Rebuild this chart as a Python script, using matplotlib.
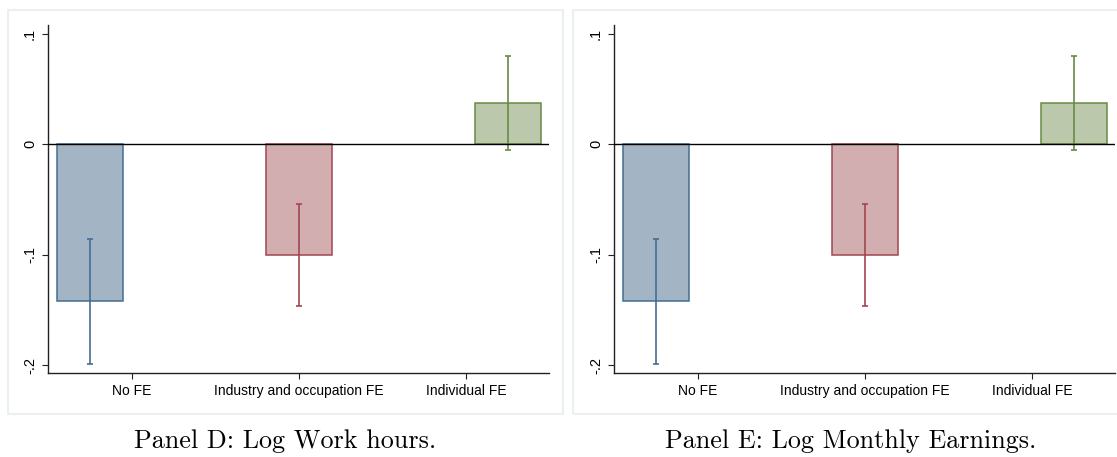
import matplotlib
matplotlib.use("Agg")
import matplotlib.pyplot as plt
from matplotlib.patches import Rectangle
import numpy as np

# Estimates with 95% confidence intervals, by fixed-effects specification
categories = ["No FE", "Industry and occupation FE", "Individual FE"]
hours_coef = [-0.142, -0.100, 0.037]
hours_lo = [-0.199, -0.147, -0.005]
hours_hi = [-0.086, -0.054, 0.080]
earn_coef = [-0.142, -0.100, 0.037]
earn_lo = [-0.199, -0.147, -0.005]
earn_hi = [-0.086, -0.054, 0.080]
yticks = [-0.2, -0.1, 0.0, 0.1]
ytick_labels = ["-.2", "-.1", "0", ".1"]
captions = ["Panel D: Log Work hours.", "Panel E: Log Monthly Earnings."]

fills = ["#a3b5c5", "#d3aeb1", "#bbc8ac"]
edges = ["#456d92", "#a2464f", "#688a44"]

W, H = 1117, 457
fig = plt.figure(figsize=(W / 100, H / 100), dpi=100)
fig.patch.set_facecolor("white")


def px_axes(left, top, right, bottom):
    return fig.add_axes([left / W, 1 - bottom / H, (right - left) / W, (bottom - top) / H])


def draw_panel(ax, coef, lo, hi):
    x = np.arange(1, len(coef) + 1)
    for i in range(len(coef)):
        ax.bar(x[i], coef[i], width=0.316, color=fills[i], edgecolor=edges[i],
               linewidth=1.1, zorder=2)
        ax.errorbar(x[i], coef[i], yerr=[[coef[i] - lo[i]], [hi[i] - coef[i]]],
                    fmt="none", ecolor=edges[i], elinewidth=1.2, capsize=2.4,
                    capthick=1.2, zorder=3)
    ax.axhline(0, color="black", linewidth=1.0, zorder=4)
    ax.set_xlim(0.8, 3.196)
    ax.set_ylim(-0.2072, 0.1077)
    ax.set_xticks([1.2, 2.0, 2.8])
    ax.set_xticklabels(categories, fontfamily="Liberation Sans", fontsize=10)
    ax.set_yticks(yticks)
    ax.set_yticklabels(ytick_labels, fontfamily="Liberation Sans", fontsize=10.5,
                       rotation=90, va="center")
    for s in ["top", "right"]:
        ax.spines[s].set_visible(False)
    for s in ["left", "bottom"]:
        ax.spines[s].set_color("#222222")
        ax.spines[s].set_linewidth(1.0)
    ax.tick_params(axis="both", length=4, width=0.8, color="#222222", pad=4)
    ax.patch.set_alpha(0)


panels = [
    (8, 10, 563, 414, 48, 549, hours_coef, hours_lo, hours_hi),
    (573, 10, 1128, 414, 614, 1115, earn_coef, earn_lo, earn_hi),
]
for k, (fl, ft, fr, fb, al, ar, c, lo, hi) in enumerate(panels):
    fig.patches.append(Rectangle((fl / W, 1 - fb / H), (fr - fl) / W, (fb - ft) / H,
                                 transform=fig.transFigure, facecolor="none",
                                 edgecolor="#eaf0f0", linewidth=1.5, zorder=-1))
    ax = px_axes(al, 25, ar, 373)
    draw_panel(ax, c, lo, hi)
    fig.text(((fl + fr) / 2) / W, 1 - 441 / H, captions[k], fontfamily="cmr10",
             fontsize=18.8, ha="center", va="center")

fig.savefig("out.png", dpi=100)
